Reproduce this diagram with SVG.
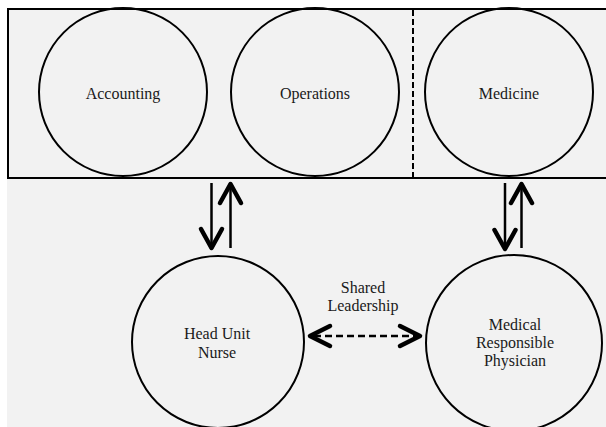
<svg xmlns="http://www.w3.org/2000/svg" width="606" height="427" viewBox="0 0 606 427">
<style>
.node{fill:none;stroke:#000;stroke-width:2}
.lbl{font-family:'Liberation Serif','Times New Roman',Times,serif;font-size:16px;fill:#1a1a1a;text-anchor:middle}
.shaft{stroke:#000;stroke-width:2.5;fill:none}
.head{stroke:#000;stroke-width:4.5;fill:none;stroke-linecap:round;stroke-linejoin:round}
.dash{stroke:#000;stroke-width:2.5;fill:none;stroke-dasharray:7 4}
</style>
<rect x="7" y="8" width="599" height="419" fill="#f2f2f2"/>
<g id="frame">
<rect x="8" y="9" width="600" height="169" fill="none" stroke="#000" stroke-width="2"/>
<line x1="413" y1="10" x2="413" y2="178" stroke="#000" stroke-width="2" stroke-dasharray="6 3"/>
</g>
<g id="accounting">
<circle class="node" cx="123" cy="92" r="84"/>
<text class="lbl" font-family="Liberation Serif, serif" x="123" y="99">Accounting</text>
</g>
<g id="operations">
<circle class="node" cx="315" cy="92" r="84"/>
<text class="lbl" font-family="Liberation Serif, serif" x="315" y="99">Operations</text>
</g>
<g id="medicine">
<circle class="node" cx="509" cy="92" r="84"/>
<text class="lbl" font-family="Liberation Serif, serif" x="509" y="99">Medicine</text>
</g>
<g id="head-unit-nurse">
<circle class="node" cx="218" cy="342" r="86"/>
<text class="lbl" font-family="Liberation Serif, serif" x="217" y="339">Head Unit</text>
<text class="lbl" font-family="Liberation Serif, serif" x="217" y="358">Nurse</text>
</g>
<g id="medical-responsible-physician">
<circle class="node" cx="514" cy="343" r="88"/>
<text class="lbl" font-family="Liberation Serif, serif" x="515" y="330">Medical</text>
<text class="lbl" font-family="Liberation Serif, serif" x="515" y="348">Responsible</text>
<text class="lbl" font-family="Liberation Serif, serif" x="515" y="366">Physician</text>
</g>
<g id="connectors">
<line class="shaft" x1="211.5" y1="183" x2="211.5" y2="247"/>
<path class="head" d="M201 229 L211.5 248 L222 229"/>
<line class="shaft" x1="230.5" y1="186" x2="230.5" y2="248"/>
<path class="head" d="M220 203 L230.5 184 L241 203"/>
<line class="shaft" x1="505" y1="183" x2="505" y2="248"/>
<path class="head" d="M494.5 230 L505 249 L515.5 230"/>
<line class="shaft" x1="521.5" y1="186" x2="521.5" y2="248"/>
<path class="head" d="M511 203 L521.5 184 L532 203"/>
<line class="dash" x1="314" y1="336" x2="416" y2="336"/>
<path class="head" d="M330 326 L310 336 L330 346"/>
<path class="head" d="M400 326 L420 336 L400 346"/>
<text class="lbl" font-family="Liberation Serif, serif" x="363" y="293">Shared</text>
<text class="lbl" font-family="Liberation Serif, serif" x="363" y="311">Leadership</text>
</g>
</svg>
